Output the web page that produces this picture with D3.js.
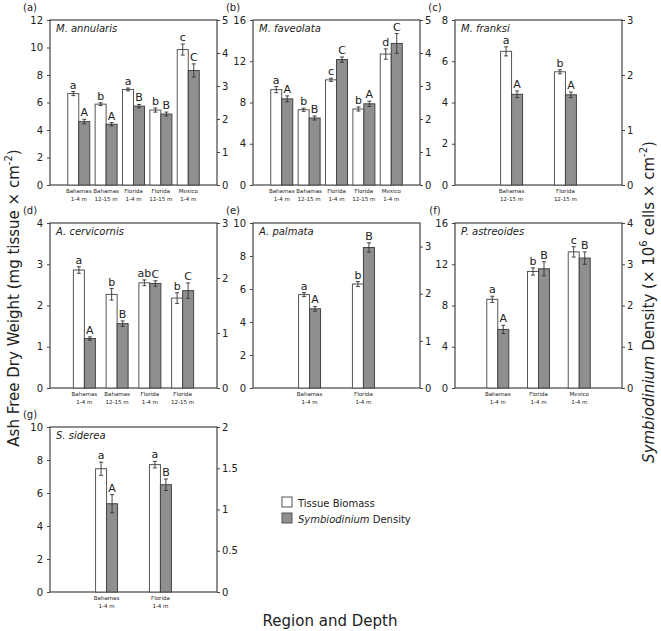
<!DOCTYPE html>
<html>
<head>
<meta charset="utf-8">
<script src="https://cdn.jsdelivr.net/npm/d3@7"></script>
<style>
  body { margin: 0; background: #fff; }
  svg { font-family: "DejaVu Sans", sans-serif; }
</style>
</head>
<body>
<div id="container"></div>
<script>
let w = 661;
let h = 631;

// ---- data ----
// site labels use "|" to split the two lines
let sitesA = ["Bahamas|1-4 m", "Bahamas|12-15 m", "Florida|1-4 m", "Florida|12-15 m", "Mexico|1-4 m"];
let tissueA = [6.65, 5.88, 6.95, 5.45, 9.85];
let tissueErrA = [0.15, 0.1, 0.1, 0.15, 0.4];
let symbA = [1.92, 1.84, 2.39, 2.15, 3.47];
let symbErrA = [0.07, 0.05, 0.05, 0.06, 0.2];
let lettersTA = ["a", "b", "a", "b", "c"];
let lettersSA = ["A", "A", "B", "B", "C"];

let sitesB = ["Bahamas|1-4 m", "Bahamas|12-15 m", "Florida|1-4 m", "Florida|12-15 m", "Mexico|1-4 m"];
let tissueB = [9.25, 7.3, 10.2, 7.37, 12.7];
let tissueErrB = [0.3, 0.15, 0.15, 0.2, 0.5];
let symbB = [2.61, 2.03, 3.8, 2.46, 4.29];
let symbErrB = [0.09, 0.06, 0.08, 0.08, 0.3];
let lettersTB = ["a", "b", "c", "b", "d"];
let lettersSB = ["A", "B", "C", "A", "C"];

let sitesC = ["Bahamas|12-15 m", "Florida|12-15 m"];
let tissueC = [6.48, 5.49];
let tissueErrC = [0.22, 0.1];
let symbC = [1.65, 1.64];
let symbErrC = [0.06, 0.05];
let lettersTC = ["a", "b"];
let lettersSC = ["A", "A"];

let sitesD = ["Bahamas|1-4 m", "Bahamas|12-15 m", "Florida|1-4 m", "Florida|12-15 m"];
let tissueD = [2.86, 2.27, 2.55, 2.18];
let tissueErrD = [0.08, 0.14, 0.07, 0.13];
let symbD = [0.9, 1.17, 1.9, 1.77];
let symbErrD = [0.03, 0.05, 0.05, 0.14];
let lettersTD = ["a", "b", "ab", "b"];
let lettersSD = ["A", "B", "C", "C"];

let sitesE = ["Bahamas|1-4 m", "Florida|1-4 m"];
let tissueE = [5.66, 6.3];
let tissueErrE = [0.12, 0.15];
let symbE = [1.68, 2.98];
let symbErrE = [0.05, 0.1];
let lettersTE = ["a", "b"];
let lettersSE = ["A", "B"];

let sitesF = ["Bahamas|1-4 m", "Florida|1-4 m", "Mexico|1-4 m"];
let tissueF = [8.6, 11.3, 13.2];
let tissueErrF = [0.3, 0.35, 0.5];
let symbF = [1.42, 2.89, 3.15];
let symbErrF = [0.1, 0.17, 0.15];
let lettersTF = ["a", "b", "c"];
let lettersSF = ["A", "B", "B"];

let sitesG = ["Bahamas|1-4 m", "Florida|1-4 m"];
let tissueG = [7.47, 7.72];
let tissueErrG = [0.4, 0.2];
let symbG = [1.07, 1.3];
let symbErrG = [0.11, 0.07];
let lettersTG = ["a", "a"];
let lettersSG = ["A", "B"];

let panelTags = ["(a)", "(b)", "(c)", "(d)", "(e)", "(f)", "(g)"];
let speciesNames = ["M. annularis", "M. faveolata", "M. franksi", "A. cervicornis", "A. palmata", "P. astreoides", "S. siderea"];
let leftMax = [12, 16, 8, 4, 10, 16, 10];
let leftTicks = [[0,2,4,6,8,10,12], [0,4,8,12,16], [0,2,4,6,8], [0,1,2,3,4], [0,2,4,6,8,10], [0,4,8,12,16], [0,2,4,6,8,10]];
let rightMax = [5, 5, 3, 3, 3.5, 4, 2];
let rightTicks = [[0,1,2,3,4,5], [0,1,2,3,4,5], [0,1,2,3], [0,1,2,3], [0,1,2,3], [0,1,2,3,4], [0,0.5,1,1.5,2]];

let panels = [
  {sites: sitesA, tissue: tissueA, tErr: tissueErrA, symb: symbA, sErr: symbErrA, lt: lettersTA, ls: lettersSA},
  {sites: sitesB, tissue: tissueB, tErr: tissueErrB, symb: symbB, sErr: symbErrB, lt: lettersTB, ls: lettersSB},
  {sites: sitesC, tissue: tissueC, tErr: tissueErrC, symb: symbC, sErr: symbErrC, lt: lettersTC, ls: lettersSC},
  {sites: sitesD, tissue: tissueD, tErr: tissueErrD, symb: symbD, sErr: symbErrD, lt: lettersTD, ls: lettersSD},
  {sites: sitesE, tissue: tissueE, tErr: tissueErrE, symb: symbE, sErr: symbErrE, lt: lettersTE, ls: lettersSE},
  {sites: sitesF, tissue: tissueF, tErr: tissueErrF, symb: symbF, sErr: symbErrF, lt: lettersTF, ls: lettersSF},
  {sites: sitesG, tissue: tissueG, tErr: tissueErrG, symb: symbG, sErr: symbErrG, lt: lettersTG, ls: lettersSG}
];

// ---- layout ----
let colX = [50, 253, 455];
let rowY = [20, 223, 427];
let pw = 167;
let ph = 165;
let barW = 11;

let viz = d3.select("#container")
  .append("svg")
    .attr("width", w)
    .attr("height", h)
;

panels.forEach(function(p, i){
  let px = colX[i % 3];
  let py = rowY[Math.floor(i / 3)];
  let g = viz.append("g").attr("transform", "translate(" + px + "," + py + ")");

  let xScale = d3.scalePoint().domain(p.sites).range([0, pw]).padding(1.05);
  let yLeft = d3.scaleLinear().domain([0, leftMax[i]]).range([ph, 0]);
  let yRight = d3.scaleLinear().domain([0, rightMax[i]]).range([ph, 0]);

  // axes
  let leftAxis = d3.axisLeft(yLeft).tickValues(leftTicks[i]).tickSize(3).tickPadding(4).tickFormat(d => d);
  let rightAxis = d3.axisRight(yRight).tickValues(rightTicks[i]).tickSize(3).tickPadding(2).tickFormat(d => d);
  let la = g.append("g").call(leftAxis);
  let ra = g.append("g").attr("transform", "translate(" + pw + ",0)").call(rightAxis);
  [la, ra].forEach(function(a){
    a.select(".domain").remove();
    a.selectAll("line").attr("stroke", "#444");
    a.selectAll("text").attr("font-size", 10).attr("fill", "#222").attr("font-family", "DejaVu Sans");
  });

  // frame
  g.append("rect")
    .attr("x", 0).attr("y", 0).attr("width", pw).attr("height", ph)
    .attr("fill", "none").attr("stroke", "#444").attr("stroke-width", 1.2);

  // site labels under the axis
  let lab = g.selectAll(".site").data(p.sites).enter().append("text")
    .attr("class", "site")
    .attr("text-anchor", "middle")
    .attr("font-size", 5.5)
    .attr("fill", "#222");
  lab.append("tspan").attr("x", d => xScale(d)).attr("y", ph + 8).text(d => d.split("|")[0]);
  lab.append("tspan").attr("x", d => xScale(d)).attr("y", ph + 16).text(d => d.split("|")[1]);

  let rows = p.sites.map(function(s, j){
    return {site: s, t: p.tissue[j], te: p.tErr[j], s: p.symb[j], se: p.sErr[j], lt: p.lt[j], ls: p.ls[j]};
  });

  let grp = g.selectAll(".datapoint").data(rows).enter().append("g").classed("datapoint", true)
    .attr("transform", d => "translate(" + xScale(d.site) + ",0)");

  // tissue bar (left axis)
  grp.append("rect")
    .attr("x", -barW).attr("width", barW)
    .attr("y", d => yLeft(d.t)).attr("height", d => ph - yLeft(d.t))
    .attr("fill", "#fff").attr("stroke", "#555").attr("stroke-width", 1);
  // symbiodinium bar (right axis)
  grp.append("rect")
    .attr("x", 0).attr("width", barW)
    .attr("y", d => yRight(d.s)).attr("height", d => ph - yRight(d.s))
    .attr("fill", "#8f8f8f").attr("stroke", "#444").attr("stroke-width", 1);

  function errBar(sel, cx, lo, hi){
    sel.append("line").attr("x1", cx).attr("x2", cx).attr("y1", lo).attr("y2", hi);
    sel.append("line").attr("x1", cx - 2).attr("x2", cx + 2).attr("y1", lo).attr("y2", lo);
    sel.append("line").attr("x1", cx - 2).attr("x2", cx + 2).attr("y1", hi).attr("y2", hi);
  }
  grp.each(function(d){
    let s = d3.select(this).append("g").attr("stroke", "#333").attr("stroke-width", 0.9);
    errBar(s, -barW / 2, yLeft(d.t - d.te), yLeft(d.t + d.te));
    errBar(s, barW / 2, yRight(d.s - d.se), yRight(d.s + d.se));
  });

  // significance letters
  grp.append("text")
    .attr("x", -barW / 2).attr("y", d => yLeft(d.t + d.te) - 3)
    .attr("text-anchor", "middle").attr("font-size", 11).attr("fill", "#222")
    .text(d => d.lt);
  grp.append("text")
    .attr("x", barW / 2).attr("y", d => yRight(d.s + d.se) - 3)
    .attr("text-anchor", "middle").attr("font-size", 11).attr("fill", "#222")
    .text(d => d.ls);

  // species name and panel tag
  g.append("text").attr("x", 6).attr("y", 12)
    .attr("font-size", 10).attr("font-style", "italic").attr("fill", "#222")
    .text(speciesNames[i]);
  g.append("text").attr("x", -20).attr("y", -9)
    .attr("text-anchor", "middle").attr("font-size", 10).attr("fill", "#222")
    .text(panelTags[i]);
});

// ---- legend ----
let legend = viz.append("g").attr("transform", "translate(282,497)");
legend.append("rect").attr("x", 0).attr("y", 0).attr("width", 10).attr("height", 10)
  .attr("fill", "#fff").attr("stroke", "#555");
legend.append("rect").attr("x", 0).attr("y", 16).attr("width", 10).attr("height", 10)
  .attr("fill", "#8f8f8f").attr("stroke", "#555");
legend.append("text").attr("x", 16).attr("y", 9.5).attr("font-size", 10).attr("fill", "#222")
  .text("Tissue Biomass");
let l2 = legend.append("text").attr("x", 16).attr("y", 25.5).attr("font-size", 10).attr("fill", "#222");
l2.append("tspan").attr("font-style", "italic").text("Symbiodinium");
l2.append("tspan").text(" Density");

// ---- axis titles ----
let leftTitle = viz.append("text")
  .attr("transform", "translate(19,298) rotate(-90)")
  .attr("text-anchor", "middle").attr("font-size", 15).attr("fill", "#222");
leftTitle.append("tspan").text("Ash Free Dry Weight (mg tissue × cm");
leftTitle.append("tspan").attr("font-size", 10).attr("dy", -7).text("-2");
leftTitle.append("tspan").attr("dy", 7).text(")");

let rightTitle = viz.append("text")
  .attr("transform", "translate(654,302) rotate(-90)")
  .attr("text-anchor", "middle").attr("font-size", 15).attr("fill", "#222");
rightTitle.append("tspan").attr("font-style", "italic").text("Symbiodinium");
rightTitle.append("tspan").text(" Density (× 10");
rightTitle.append("tspan").attr("font-size", 10).attr("dy", -7).text("6");
rightTitle.append("tspan").attr("dy", 7).text(" cells × cm");
rightTitle.append("tspan").attr("font-size", 10).attr("dy", -7).text("-2");
rightTitle.append("tspan").attr("dy", 7).text(")");

viz.append("text")
  .attr("x", 330).attr("y", 626)
  .attr("text-anchor", "middle").attr("font-size", 15).attr("fill", "#222")
  .text("Region and Depth");
</script>
</body>
</html>
